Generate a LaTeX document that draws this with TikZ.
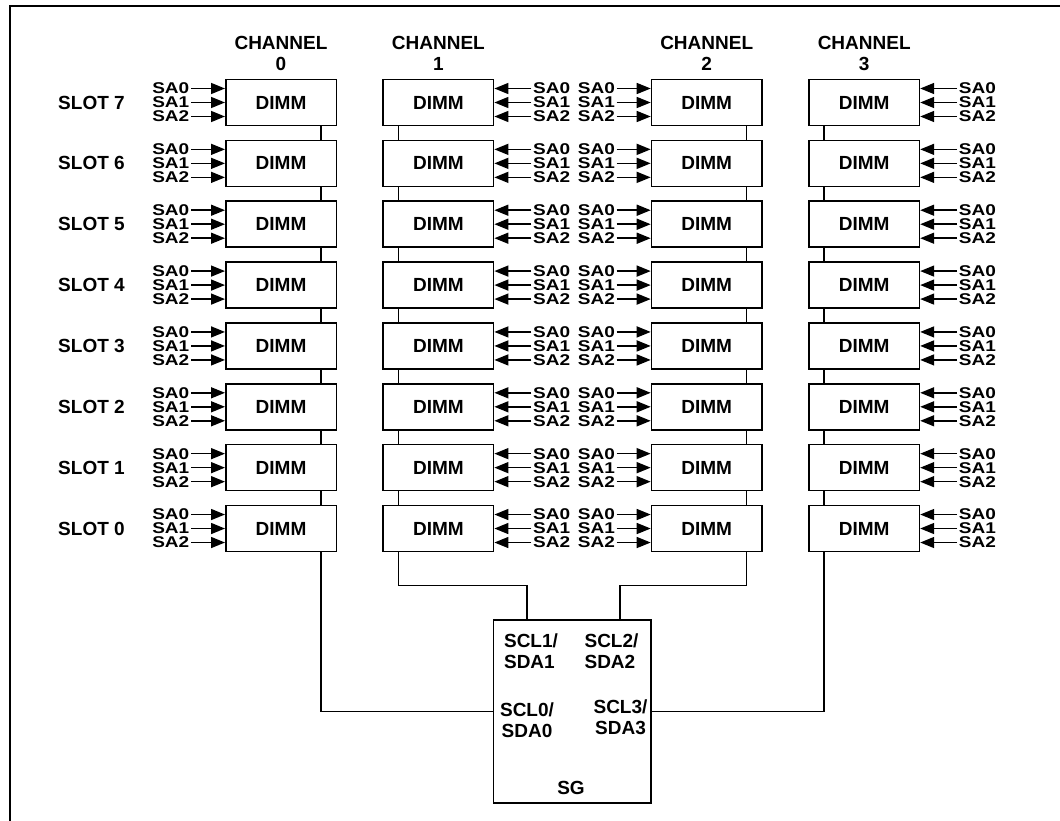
\documentclass[tikz,border=0pt]{standalone}
\usepackage{fontspec}
\setmainfont{Liberation Sans}
\usepackage{graphicx}
\usetikzlibrary{arrows.meta,calc}

\newcommand{\saname}[1]{\scalebox{1}[0.82]{SA#1}}

\begin{document}
\begin{tikzpicture}[x=1pt,y=-1pt,line width=1.5pt,
    lbl/.style={font=\bfseries\fontsize{19}{21}\selectfont,inner sep=0pt},
    dimm/.style={draw,lbl,minimum width=110.5pt,minimum height=46pt},
    salbl/.style={lbl,inner sep=1pt},
    saarrow/.style={-{Triangle[length=14pt,width=11pt]}}]
    \useasboundingbox (0,0) rectangle (1060,821);
    \draw[line width=2pt] (1060,6) -- (10,6) -- (10,821);

    % dimm slots
    \foreach \c/\x in {0/281,1/438.4,2/706.7,3/864.2} {
        \node[lbl,align=center] (ch\c) at (\x,53.5) {CHANNEL\\\c};
        \foreach \s in {0,...,7}
            \node[dimm] (d\c-\s) at (\x,{102.5+(7-\s)*60.86}) {DIMM};
    }
    \foreach \s in {0,...,7}
        \node[lbl] (slot\s) at (91.5,{102.5+(7-\s)*60.86}) {SLOT \s};

    % buses
    \coordinate (b0) at (321,0);
    \coordinate (b1) at (398.6,0);
    \coordinate (b2) at (746.5,0);
    \coordinate (b3) at (824.2,0);
    \foreach \c in {0,...,3}
        \foreach \s [remember=\s as \up (initially 7)] in {6,...,0}
            \draw (d\c-\up.south -| b\c) -- (d\c-\s.north -| b\c);

    % address pins
    \foreach \c in {0,2}
        \foreach \s in {0,...,7}
            \foreach \a/\dy in {0/-14,1/0,2/14} {
                \node[salbl,anchor=east] (sa\c-\s-\a) at ($(d\c-\s.west)+(-34,\dy)$) {\saname{\a}};
                \draw[saarrow] (sa\c-\s-\a.east) -- (sa\c-\s-\a.east -| d\c-\s.west);
            }
    \foreach \c in {1,3}
        \foreach \s in {0,...,7}
            \foreach \a/\dy in {0/-14,1/0,2/14} {
                \node[salbl,anchor=west] (sa\c-\s-\a) at ($(d\c-\s.east)+(37,\dy)$) {\saname{\a}};
                \draw[saarrow] (sa\c-\s-\a.west) -- (sa\c-\s-\a.west -| d\c-\s.east);
            }

    % SG
    \node[draw,minimum width=157.7pt,minimum height=182.7pt,inner sep=0pt] (sg) at (572.2,711.4) {};
    \node[lbl,align=left] (scl1) at (531,651) {SCL1/\\SDA1};
    \node[lbl,align=left] (scl2) at (611.5,651) {SCL2/\\SDA2};
    \node[lbl,align=center] (scl0) at (527,720.5) {SCL0/\\SDA0};
    \node[lbl,align=center] (scl3) at (620.5,717.5) {SCL3/\\SDA3};
    \node[lbl] (sgname) at (571,787.5) {SG};
    \coordinate (p1) at ($(sg.north west)+(34.4,0)$);
    \coordinate (p2) at ($(sg.north east)+(-31.7,0)$);

    \draw (d0-0.south -| b0) |- (sg.west);
    \draw (d1-0.south -| b1) -- ++(0,33) -| (p1);
    \draw (d2-0.south -| b2) -- ++(0,33) -| (p2);
    \draw (d3-0.south -| b3) |- (sg.east);
\end{tikzpicture}
\end{document}
